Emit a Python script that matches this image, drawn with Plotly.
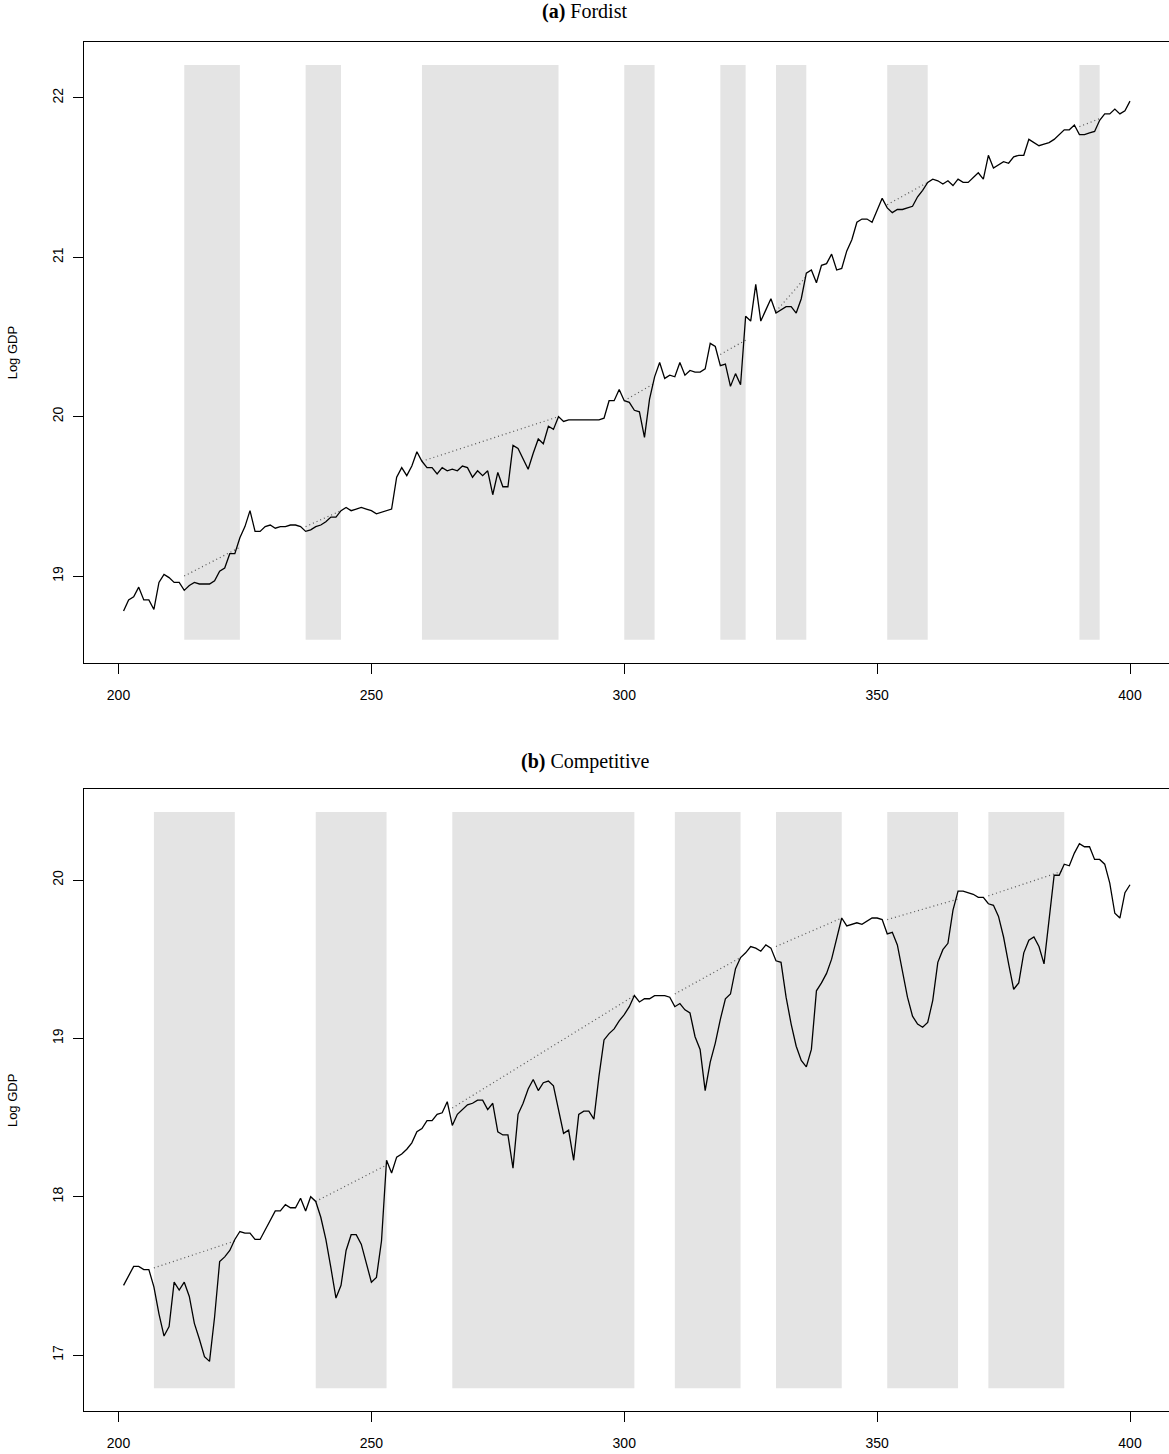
import plotly.graph_objects as go

# ---------------- data ----------------
periods = list(range(201, 401))

fordist_log_gdp = [
    18.78, 18.85, 18.87, 18.93, 18.85, 18.85, 18.79, 18.96, 19.01, 18.99,
    18.96, 18.96, 18.91, 18.94, 18.96, 18.95, 18.95, 18.95, 18.97, 19.03,
    19.05, 19.14, 19.14, 19.24, 19.31, 19.41, 19.28, 19.28, 19.31, 19.32,
    19.30, 19.31, 19.31, 19.32, 19.32, 19.31, 19.28, 19.29, 19.31, 19.32,
    19.34, 19.37, 19.37, 19.41, 19.43, 19.41, 19.42, 19.43, 19.42, 19.41,
    19.39, 19.40, 19.41, 19.42, 19.62, 19.68, 19.63, 19.69, 19.78, 19.72,
    19.68, 19.68, 19.64, 19.68, 19.66, 19.67, 19.66, 19.69, 19.68, 19.62,
    19.66, 19.63, 19.66, 19.51, 19.65, 19.56, 19.56, 19.82, 19.80, 19.74,
    19.67, 19.77, 19.86, 19.83, 19.94, 19.92, 20.00, 19.97, 19.98, 19.98,
    19.98, 19.98, 19.98, 19.98, 19.98, 19.99, 20.10, 20.10, 20.17, 20.10,
    20.09, 20.04, 20.03, 19.87, 20.11, 20.25, 20.34, 20.24, 20.26, 20.25,
    20.34, 20.26, 20.29, 20.28, 20.28, 20.30, 20.46, 20.44, 20.32, 20.33,
    20.19, 20.27, 20.20, 20.63, 20.60, 20.83, 20.60, 20.67, 20.74, 20.65,
    20.67, 20.69, 20.69, 20.65, 20.74, 20.90, 20.92, 20.84, 20.95, 20.96,
    21.02, 20.92, 20.93, 21.04, 21.11, 21.22, 21.24, 21.24, 21.22, 21.30,
    21.37, 21.31, 21.28, 21.30, 21.30, 21.31, 21.32, 21.38, 21.42, 21.47,
    21.49, 21.48, 21.46, 21.48, 21.45, 21.49, 21.47, 21.47, 21.50, 21.53,
    21.49, 21.64, 21.56, 21.58, 21.60, 21.59, 21.63, 21.64, 21.64, 21.74,
    21.72, 21.70, 21.71, 21.72, 21.74, 21.77, 21.80, 21.80, 21.83, 21.77,
    21.77, 21.78, 21.79, 21.86, 21.90, 21.90, 21.93, 21.90, 21.92, 21.98,
]

competitive_log_gdp = [
    17.44, 17.50, 17.56, 17.56, 17.54, 17.54, 17.43, 17.26, 17.12, 17.18,
    17.46, 17.41, 17.46, 17.37, 17.20, 17.10, 16.99, 16.96, 17.24, 17.59,
    17.62, 17.66, 17.73, 17.78, 17.77, 17.77, 17.73, 17.73, 17.79, 17.85,
    17.91, 17.91, 17.95, 17.93, 17.93, 17.99, 17.91, 18.00, 17.97, 17.87,
    17.73, 17.55, 17.36, 17.44, 17.66, 17.76, 17.76, 17.70, 17.58, 17.46,
    17.49, 17.72, 18.23, 18.15, 18.25, 18.27, 18.30, 18.34, 18.41, 18.43,
    18.48, 18.48, 18.52, 18.53, 18.60, 18.45, 18.52, 18.55, 18.58, 18.59,
    18.61, 18.61, 18.55, 18.59, 18.41, 18.39, 18.39, 18.18, 18.52, 18.59,
    18.68, 18.74, 18.67, 18.72, 18.73, 18.70, 18.55, 18.40, 18.42, 18.23,
    18.52, 18.54, 18.54, 18.49, 18.76, 18.99, 19.03, 19.06, 19.11, 19.15,
    19.20, 19.27, 19.23, 19.25, 19.25, 19.27, 19.27, 19.27, 19.26, 19.20,
    19.22, 19.18, 19.16, 19.01, 18.93, 18.67, 18.85, 18.97, 19.12, 19.25,
    19.28, 19.44, 19.51, 19.54, 19.58, 19.57, 19.55, 19.59, 19.57, 19.49,
    19.48, 19.26, 19.09, 18.95, 18.86, 18.82, 18.93, 19.30, 19.35, 19.41,
    19.50, 19.64, 19.76, 19.71, 19.72, 19.73, 19.72, 19.74, 19.76, 19.76,
    19.75, 19.66, 19.67, 19.59, 19.43, 19.26, 19.14, 19.09, 19.07, 19.10,
    19.24, 19.48, 19.56, 19.60, 19.81, 19.93, 19.93, 19.92, 19.91, 19.89,
    19.89, 19.85, 19.84, 19.77, 19.64, 19.47, 19.31, 19.35, 19.54, 19.62,
    19.64, 19.58, 19.47, 19.75, 20.03, 20.03, 20.10, 20.09, 20.17, 20.23,
    20.21, 20.21, 20.13, 20.13, 20.10, 19.98, 19.79, 19.76, 19.92, 19.97,
]

# recession bands (start, end)
fordist_band_start = [213, 237, 260, 300, 319, 330, 352, 390]
fordist_band_end = [224, 244, 287, 306, 324, 336, 360, 394]
fordist_band_low, fordist_band_high = 18.60, 22.207

competitive_band_start = [207, 239, 266, 310, 330, 352, 372]
competitive_band_end = [223, 253, 302, 323, 343, 366, 387]
competitive_band_low, competitive_band_high = 16.79, 20.43

# dotted trend segments across each band (value at start, value at end)
fordist_trend_start = [19.00, 19.31, 19.72, 20.10, 20.39, 20.66, 21.33, 21.82]
fordist_trend_end = [19.18, 19.41, 20.00, 20.21, 20.48, 20.88, 21.47, 21.87]

competitive_trend_start = [17.55, 17.97, 18.56, 19.28, 19.58, 19.75, 19.90]
competitive_trend_end = [17.72, 18.20, 19.27, 19.51, 19.76, 19.88, 20.06]

x_ticks = [200, 250, 300, 350, 400]
fordist_y_ticks = [19, 20, 21, 22]
competitive_y_ticks = [17, 18, 19, 20]

# ---------------- figure ----------------
W, H = 1169, 1454
fig = go.Figure()

panels = [
    ("x", "y", fordist_log_gdp, fordist_band_start, fordist_band_end,
     fordist_band_low, fordist_band_high, fordist_trend_start, fordist_trend_end),
    ("x2", "y2", competitive_log_gdp, competitive_band_start, competitive_band_end,
     competitive_band_low, competitive_band_high, competitive_trend_start, competitive_trend_end),
]

shapes = []
for xa, ya, series, bs, be, lo, hi, ts, te in panels:
    for s, e in zip(bs, be):
        shapes.append(dict(type="rect", xref=xa, yref=ya, x0=s, x1=e, y0=lo, y1=hi,
                           fillcolor="#e4e4e4", line=dict(width=0), layer="below"))
    for s, e, v0, v1 in zip(bs, be, ts, te):
        fig.add_trace(go.Scatter(x=[s, e], y=[v0, v1], xaxis=xa, yaxis=ya, mode="lines",
                                 line=dict(color="#555555", width=1.2, dash="1px,3px"),
                                 showlegend=False, hoverinfo="skip"))
    fig.add_trace(go.Scatter(x=periods, y=series, xaxis=xa, yaxis=ya, mode="lines",
                             line=dict(color="black", width=1.3),
                             showlegend=False))

# pixel geometry
left_px = 84
plot_w = W - left_px
px_per_unit = (1130 - 118.5) / 200.0
x_lo = 200 - (118.5 - left_px) / px_per_unit
x_hi = x_lo + plot_w / px_per_unit

def ydom(top_px, bot_px):
    return [1 - bot_px / H, 1 - top_px / H]

axis_font = dict(family="Liberation Sans, Arial, sans-serif", size=14, color="black")
xaxis_common = dict(range=[x_lo, x_hi], showgrid=False, zeroline=False, showline=True,
                    linecolor="black", linewidth=1, mirror=True, ticks="outside",
                    ticklen=10, tickwidth=1, tickcolor="black", tickvals=x_ticks,
                    tickfont=axis_font, ticklabelstandoff=9)
yaxis_common = dict(showgrid=False, zeroline=False, showline=True, linecolor="black",
                    linewidth=1, mirror=False, ticks="outside", ticklen=10, tickwidth=1,
                    tickcolor="black", tickfont=axis_font, tickangle=-90,
                    ticklabelstandoff=4)

fig.update_layout(
    width=W, height=H,
    margin=dict(l=left_px, r=0, t=0, b=0),
    paper_bgcolor="white", plot_bgcolor="white",
    xaxis=dict(xaxis_common, anchor="y", domain=[0, 1]),
    yaxis=dict(yaxis_common, anchor="x", domain=ydom(42, 662.7),
               range=[18.456, 22.351], tickvals=fordist_y_ticks),
    xaxis2=dict(xaxis_common, anchor="y2", domain=[0, 1]),
    yaxis2=dict(yaxis_common, anchor="x2", domain=ydom(788.8, 1411.4),
                range=[16.644, 20.576], tickvals=competitive_y_ticks),
    shapes=shapes,
)

title_font = dict(family="Liberation Serif, DejaVu Serif, serif", size=20, color="black")
center_x = (W / 2 - left_px) / plot_w
annotations = [
    dict(text="<b>(a)</b> Fordist", x=center_x, y=1 - 12 / H),
    dict(text="<b>(b)</b> Competitive", x=center_x, y=1 - 761 / H),
]
for a in annotations:
    fig.add_annotation(xref="paper", yref="paper", xanchor="center", yanchor="middle",
                       showarrow=False, font=title_font, **a)

label_x = (12 - left_px) / plot_w
label_font = dict(family="Liberation Sans, Arial, sans-serif", size=13, color="black")
for ymid_px in [(42 + 662.7) / 2, (788.8 + 1411.4) / 2]:
    fig.add_annotation(text="Log GDP", xref="paper", yref="paper", x=label_x,
                       y=1 - ymid_px / H, xanchor="center", yanchor="middle",
                       textangle=-90, showarrow=False, font=label_font)

fig.write_html("out.html", config={"displayModeBar": False},
               post_script="document.body.style.margin='0px';document.body.style.overflow='hidden';")
